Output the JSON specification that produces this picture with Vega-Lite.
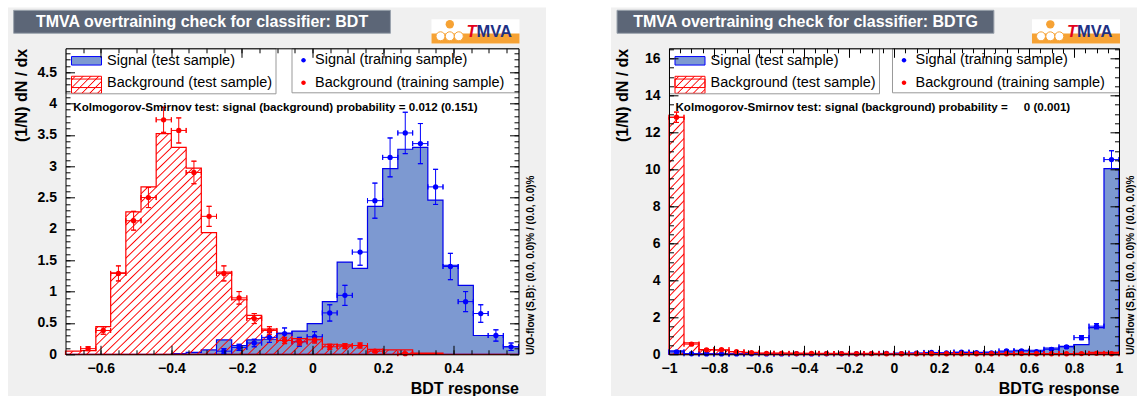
{
"$schema":"https://vega.github.io/schema/vega-lite/v6.json",
"background":"white",
"padding":{"left":7.5,"top":7.3,"right":0,"bottom":0},
"spacing":63.5,
"datasets":{
"bdtHist":[
{"x":-0.7,"s":0,"b":0.05},{"x":-0.657,"s":0,"b":0.06},{"x":-0.614,"s":0,"b":0.44},{"x":-0.572,"s":0,"b":1.3},{"x":-0.529,"s":0,"b":2.27},{"x":-0.486,"s":0,"b":2.67},{"x":-0.443,"s":0,"b":3.52},{"x":-0.4,"s":0.01,"b":3.3},{"x":-0.358,"s":0.03,"b":2.97},{"x":-0.315,"s":0.07,"b":1.94},{"x":-0.272,"s":0.23,"b":1.31},{"x":-0.229,"s":0.14,"b":0.87},{"x":-0.186,"s":0.23,"b":0.62},{"x":-0.144,"s":0.24,"b":0.4},{"x":-0.101,"s":0.34,"b":0.33},{"x":-0.058,"s":0.37,"b":0.25},{"x":-0.015,"s":0.49,"b":0.24},{"x":0.028,"s":0.84,"b":0.16},{"x":0.07,"s":1.47,"b":0.15},{"x":0.113,"s":1.37,"b":0.14},{"x":0.156,"s":2.36,"b":0.08},{"x":0.199,"s":2.96,"b":0.07},{"x":0.242,"s":3.27,"b":0.07},{"x":0.284,"s":3.3,"b":0.02},{"x":0.327,"s":2.46,"b":0.02},{"x":0.37,"s":1.42,"b":0},{"x":0.413,"s":1.1,"b":0},{"x":0.456,"s":0.3,"b":0},{"x":0.498,"s":0.3,"b":0},{"x":0.541,"s":0.12,"b":0},{"x":0.584,"s":0,"b":0}],
"bdtTrain":[
{"sample":"S","c":-0.251,"lo":-0.272,"hi":-0.229,"v":0.05,"yl":0.01,"yh":0.09},
{"sample":"S","c":-0.208,"lo":-0.229,"hi":-0.186,"v":0.11,"yl":0.06,"yh":0.16},
{"sample":"S","c":-0.165,"lo":-0.186,"hi":-0.144,"v":0.18,"yl":0.12,"yh":0.24},
{"sample":"S","c":-0.122,"lo":-0.144,"hi":-0.101,"v":0.27,"yl":0.19,"yh":0.35},
{"sample":"S","c":-0.079,"lo":-0.101,"hi":-0.058,"v":0.33,"yl":0.24,"yh":0.42},
{"sample":"S","c":-0.037,"lo":-0.058,"hi":-0.015,"v":0.2,"yl":0.13,"yh":0.27},
{"sample":"S","c":0.006,"lo":-0.015,"hi":0.028,"v":0.28,"yl":0.2,"yh":0.36},
{"sample":"S","c":0.049,"lo":0.028,"hi":0.07,"v":0.66,"yl":0.53,"yh":0.79},
{"sample":"S","c":0.092,"lo":0.07,"hi":0.113,"v":0.94,"yl":0.78,"yh":1.1},
{"sample":"S","c":0.135,"lo":0.113,"hi":0.156,"v":1.63,"yl":1.42,"yh":1.84},
{"sample":"S","c":0.177,"lo":0.156,"hi":0.199,"v":2.45,"yl":2.17,"yh":2.73},
{"sample":"S","c":0.22,"lo":0.199,"hi":0.242,"v":3.14,"yl":2.83,"yh":3.45},
{"sample":"S","c":0.263,"lo":0.242,"hi":0.284,"v":3.53,"yl":3.2,"yh":3.86},
{"sample":"S","c":0.306,"lo":0.284,"hi":0.327,"v":3.36,"yl":3.04,"yh":3.68},
{"sample":"S","c":0.349,"lo":0.327,"hi":0.37,"v":2.67,"yl":2.39,"yh":2.95},
{"sample":"S","c":0.391,"lo":0.37,"hi":0.413,"v":1.4,"yl":1.19,"yh":1.61},
{"sample":"S","c":0.434,"lo":0.413,"hi":0.456,"v":0.84,"yl":0.68,"yh":1.0},
{"sample":"S","c":0.477,"lo":0.456,"hi":0.498,"v":0.65,"yl":0.51,"yh":0.79},
{"sample":"S","c":0.52,"lo":0.498,"hi":0.541,"v":0.3,"yl":0.21,"yh":0.39},
{"sample":"S","c":0.563,"lo":0.541,"hi":0.584,"v":0.12,"yl":0.06,"yh":0.18},
{"sample":"B","c":-0.636,"lo":-0.657,"hi":-0.614,"v":0.09,"yl":0.06,"yh":0.12},
{"sample":"B","c":-0.593,"lo":-0.614,"hi":-0.572,"v":0.38,"yl":0.32,"yh":0.44},
{"sample":"B","c":-0.55,"lo":-0.572,"hi":-0.529,"v":1.29,"yl":1.17,"yh":1.41},
{"sample":"B","c":-0.507,"lo":-0.529,"hi":-0.486,"v":2.13,"yl":1.98,"yh":2.28},
{"sample":"B","c":-0.465,"lo":-0.486,"hi":-0.443,"v":2.5,"yl":2.34,"yh":2.66},
{"sample":"B","c":-0.422,"lo":-0.443,"hi":-0.4,"v":3.74,"yl":3.54,"yh":3.94},
{"sample":"B","c":-0.379,"lo":-0.4,"hi":-0.358,"v":3.57,"yl":3.37,"yh":3.77},
{"sample":"B","c":-0.336,"lo":-0.358,"hi":-0.315,"v":2.9,"yl":2.72,"yh":3.08},
{"sample":"B","c":-0.293,"lo":-0.315,"hi":-0.272,"v":2.2,"yl":2.04,"yh":2.36},
{"sample":"B","c":-0.251,"lo":-0.272,"hi":-0.229,"v":1.29,"yl":1.17,"yh":1.41},
{"sample":"B","c":-0.208,"lo":-0.229,"hi":-0.186,"v":0.9,"yl":0.8,"yh":1.0},
{"sample":"B","c":-0.165,"lo":-0.186,"hi":-0.144,"v":0.57,"yl":0.49,"yh":0.65},
{"sample":"B","c":-0.122,"lo":-0.144,"hi":-0.101,"v":0.38,"yl":0.32,"yh":0.44},
{"sample":"B","c":-0.079,"lo":-0.101,"hi":-0.058,"v":0.22,"yl":0.17,"yh":0.27},
{"sample":"B","c":-0.037,"lo":-0.058,"hi":-0.015,"v":0.2,"yl":0.15,"yh":0.25},
{"sample":"B","c":0.006,"lo":-0.015,"hi":0.028,"v":0.23,"yl":0.18,"yh":0.28},
{"sample":"B","c":0.049,"lo":0.028,"hi":0.07,"v":0.12,"yl":0.08,"yh":0.16},
{"sample":"B","c":0.092,"lo":0.07,"hi":0.113,"v":0.13,"yl":0.09,"yh":0.17},
{"sample":"B","c":0.135,"lo":0.113,"hi":0.156,"v":0.14,"yl":0.1,"yh":0.18},
{"sample":"B","c":0.177,"lo":0.156,"hi":0.199,"v":0.05,"yl":0.03,"yh":0.07},
{"sample":"B","c":0.263,"lo":0.242,"hi":0.284,"v":0.01,"yl":0,"yh":0.02}],
"bdtgHist":[
{"x":-1,"s":0.18,"b":12.82},{"x":-0.9333,"s":0.03,"b":0.62},{"x":-0.8667,"s":0.02,"b":0.25},{"x":-0.8,"s":0.02,"b":0.22},{"x":-0.7333,"s":0.02,"b":0.14},{"x":-0.6667,"s":0.02,"b":0.1},{"x":-0.6,"s":0.02,"b":0.07},{"x":-0.5333,"s":0.02,"b":0.06},{"x":-0.4667,"s":0.02,"b":0.06},{"x":-0.4,"s":0.03,"b":0.05},{"x":-0.3333,"s":0.03,"b":0.05},{"x":-0.2667,"s":0.03,"b":0.05},{"x":-0.2,"s":0.03,"b":0.05},{"x":-0.1333,"s":0.04,"b":0.05},{"x":-0.0667,"s":0.04,"b":0.04},{"x":0,"s":0.06,"b":0.04},{"x":0.0667,"s":0.07,"b":0.04},{"x":0.1333,"s":0.07,"b":0.04},{"x":0.2,"s":0.08,"b":0.04},{"x":0.2667,"s":0.09,"b":0.04},{"x":0.3333,"s":0.1,"b":0.04},{"x":0.4,"s":0.12,"b":0.04},{"x":0.4667,"s":0.13,"b":0.04},{"x":0.5333,"s":0.22,"b":0.04},{"x":0.6,"s":0.22,"b":0.04},{"x":0.6667,"s":0.34,"b":0.04},{"x":0.7333,"s":0.43,"b":0.04},{"x":0.8,"s":0.52,"b":0.05},{"x":0.8667,"s":1.44,"b":0.1},{"x":0.9333,"s":10.04,"b":0.1},{"x":1,"s":0,"b":0}],
"bdtgTrain":[
{"sample":"S","c":-0.9667,"lo":-1,"hi":-0.9333,"v":0.13,"yl":0.09,"yh":0.17},
{"sample":"S","c":-0.9,"lo":-0.9333,"hi":-0.8667,"v":0.03,"yl":0.01,"yh":0.05},
{"sample":"S","c":-0.8333,"lo":-0.8667,"hi":-0.8,"v":0.02,"yl":0,"yh":0.04},
{"sample":"S","c":-0.7667,"lo":-0.8,"hi":-0.7333,"v":0.02,"yl":0,"yh":0.04},
{"sample":"S","c":-0.7,"lo":-0.7333,"hi":-0.6667,"v":0.02,"yl":0,"yh":0.04},
{"sample":"S","c":-0.6333,"lo":-0.6667,"hi":-0.6,"v":0.03,"yl":0.01,"yh":0.05},
{"sample":"S","c":-0.5667,"lo":-0.6,"hi":-0.5333,"v":0.02,"yl":0,"yh":0.04},
{"sample":"S","c":-0.5,"lo":-0.5333,"hi":-0.4667,"v":0.02,"yl":0,"yh":0.04},
{"sample":"S","c":-0.4333,"lo":-0.4667,"hi":-0.4,"v":0.03,"yl":0.01,"yh":0.05},
{"sample":"S","c":-0.3667,"lo":-0.4,"hi":-0.3333,"v":0.02,"yl":0,"yh":0.04},
{"sample":"S","c":-0.3,"lo":-0.3333,"hi":-0.2667,"v":0.03,"yl":0.01,"yh":0.05},
{"sample":"S","c":-0.2333,"lo":-0.2667,"hi":-0.2,"v":0.03,"yl":0.01,"yh":0.05},
{"sample":"S","c":-0.1667,"lo":-0.2,"hi":-0.1333,"v":0.03,"yl":0.01,"yh":0.05},
{"sample":"S","c":-0.1,"lo":-0.1333,"hi":-0.0667,"v":0.04,"yl":0.02,"yh":0.06},
{"sample":"S","c":-0.0333,"lo":-0.0667,"hi":0,"v":0.05,"yl":0.03,"yh":0.07},
{"sample":"S","c":0.0333,"lo":0,"hi":0.0667,"v":0.04,"yl":0.02,"yh":0.06},
{"sample":"S","c":0.1,"lo":0.0667,"hi":0.1333,"v":0.06,"yl":0.03,"yh":0.09},
{"sample":"S","c":0.1667,"lo":0.1333,"hi":0.2,"v":0.1,"yl":0.07,"yh":0.13},
{"sample":"S","c":0.2333,"lo":0.2,"hi":0.2667,"v":0.07,"yl":0.04,"yh":0.1},
{"sample":"S","c":0.3,"lo":0.2667,"hi":0.3333,"v":0.12,"yl":0.08,"yh":0.16},
{"sample":"S","c":0.3667,"lo":0.3333,"hi":0.4,"v":0.09,"yl":0.06,"yh":0.12},
{"sample":"S","c":0.4333,"lo":0.4,"hi":0.4667,"v":0.07,"yl":0.04,"yh":0.1},
{"sample":"S","c":0.5,"lo":0.4667,"hi":0.5333,"v":0.18,"yl":0.13,"yh":0.23},
{"sample":"S","c":0.5667,"lo":0.5333,"hi":0.6,"v":0.18,"yl":0.13,"yh":0.23},
{"sample":"S","c":0.6333,"lo":0.6,"hi":0.6667,"v":0.14,"yl":0.09,"yh":0.19},
{"sample":"S","c":0.7,"lo":0.6667,"hi":0.7333,"v":0.27,"yl":0.21,"yh":0.33},
{"sample":"S","c":0.7667,"lo":0.7333,"hi":0.8,"v":0.4,"yl":0.33,"yh":0.47},
{"sample":"S","c":0.8333,"lo":0.8,"hi":0.8667,"v":0.9,"yl":0.79,"yh":1.01},
{"sample":"S","c":0.9,"lo":0.8667,"hi":0.9333,"v":1.52,"yl":1.38,"yh":1.66},
{"sample":"S","c":0.9667,"lo":0.9333,"hi":1,"v":10.53,"yl":10.05,"yh":11.01},
{"sample":"B","c":-0.9667,"lo":-1,"hi":-0.9333,"v":12.82,"yl":12.54,"yh":13.1},
{"sample":"B","c":-0.9,"lo":-0.9333,"hi":-0.8667,"v":0.55,"yl":0.49,"yh":0.61},
{"sample":"B","c":-0.8333,"lo":-0.8667,"hi":-0.8,"v":0.24,"yl":0.2,"yh":0.28},
{"sample":"B","c":-0.7667,"lo":-0.8,"hi":-0.7333,"v":0.25,"yl":0.21,"yh":0.29},
{"sample":"B","c":-0.7,"lo":-0.7333,"hi":-0.6667,"v":0.14,"yl":0.11,"yh":0.17},
{"sample":"B","c":-0.6333,"lo":-0.6667,"hi":-0.6,"v":0.09,"yl":0.07,"yh":0.11},
{"sample":"B","c":-0.5667,"lo":-0.6,"hi":-0.5333,"v":0.05,"yl":0.035,"yh":0.065},
{"sample":"B","c":-0.5,"lo":-0.5333,"hi":-0.4667,"v":0.05,"yl":0.035,"yh":0.065},
{"sample":"B","c":-0.4333,"lo":-0.4667,"hi":-0.4,"v":0.04,"yl":0.025,"yh":0.055},
{"sample":"B","c":-0.3667,"lo":-0.4,"hi":-0.3333,"v":0.05,"yl":0.035,"yh":0.065},
{"sample":"B","c":-0.3,"lo":-0.3333,"hi":-0.2667,"v":0.04,"yl":0.025,"yh":0.055},
{"sample":"B","c":-0.2333,"lo":-0.2667,"hi":-0.2,"v":0.04,"yl":0.025,"yh":0.055},
{"sample":"B","c":-0.1667,"lo":-0.2,"hi":-0.1333,"v":0.03,"yl":0.015,"yh":0.045},
{"sample":"B","c":-0.1,"lo":-0.1333,"hi":-0.0667,"v":0.04,"yl":0.025,"yh":0.055},
{"sample":"B","c":-0.0333,"lo":-0.0667,"hi":0,"v":0.03,"yl":0.015,"yh":0.045},
{"sample":"B","c":0.0333,"lo":0,"hi":0.0667,"v":0.03,"yl":0.015,"yh":0.045},
{"sample":"B","c":0.1,"lo":0.0667,"hi":0.1333,"v":0.03,"yl":0.015,"yh":0.045},
{"sample":"B","c":0.1667,"lo":0.1333,"hi":0.2,"v":0.03,"yl":0.015,"yh":0.045},
{"sample":"B","c":0.2333,"lo":0.2,"hi":0.2667,"v":0.03,"yl":0.015,"yh":0.045},
{"sample":"B","c":0.3,"lo":0.2667,"hi":0.3333,"v":0.03,"yl":0.015,"yh":0.045},
{"sample":"B","c":0.3667,"lo":0.3333,"hi":0.4,"v":0.03,"yl":0.015,"yh":0.045},
{"sample":"B","c":0.4333,"lo":0.4,"hi":0.4667,"v":0.03,"yl":0.015,"yh":0.045},
{"sample":"B","c":0.5,"lo":0.4667,"hi":0.5333,"v":0.03,"yl":0.015,"yh":0.045},
{"sample":"B","c":0.5667,"lo":0.5333,"hi":0.6,"v":0.04,"yl":0.025,"yh":0.055},
{"sample":"B","c":0.6333,"lo":0.6,"hi":0.6667,"v":0.03,"yl":0.015,"yh":0.045},
{"sample":"B","c":0.7,"lo":0.6667,"hi":0.7333,"v":0.03,"yl":0.015,"yh":0.045},
{"sample":"B","c":0.7667,"lo":0.7333,"hi":0.8,"v":0.03,"yl":0.015,"yh":0.045},
{"sample":"B","c":0.8333,"lo":0.8,"hi":0.8667,"v":0.04,"yl":0.025,"yh":0.055},
{"sample":"B","c":0.9,"lo":0.8667,"hi":0.9333,"v":0.05,"yl":0.035,"yh":0.065},
{"sample":"B","c":0.9667,"lo":0.9333,"hi":1,"v":0.03,"yl":0.015,"yh":0.045}]
},
"hconcat":[
{"width":453,"height":306,
"resolve":{"axis":{"x":"independent","y":"independent"}},
"layer":[
{"data":{"values":[{}]},"mark":{"type":"rect","fill":"#f0f0f0"},"encoding":{"x":{"datum":-0.863,"type":"quantitative","scale":{"domain":[-0.7,0.584],"nice":false,"zero":false},"axis":null},"x2":{"datum":0.662},"y":{"datum":-0.67,"type":"quantitative","scale":{"domain":[0,4.88],"nice":false,"zero":false},"axis":null},"y2":{"datum":5.53}}},
{"data":{"values":[{}]},"mark":{"type":"rect","fill":"#5c6677","stroke":"#9aa3ad","strokeWidth":1},"encoding":{"x":{"datum":-0.847,"type":"quantitative","scale":{"domain":[-0.7,0.584],"nice":false,"zero":false},"axis":null},"x2":{"datum":0.221},"y":{"datum":5.12,"type":"quantitative","scale":{"domain":[0,4.88],"nice":false,"zero":false},"axis":null},"y2":{"datum":5.486}}},
{"data":{"values":[{}]},"mark":{"type":"text","text":"TMVA overtraining check for classifier: BDT","font":"Liberation Sans","fontSize":16,"fontWeight":"bold","color":"white","align":"center","baseline":"middle"},"encoding":{"x":{"datum":-0.313,"type":"quantitative","scale":{"domain":[-0.7,0.584],"nice":false,"zero":false},"axis":null},"y":{"datum":5.303,"type":"quantitative","scale":{"domain":[0,4.88],"nice":false,"zero":false},"axis":null}}},
{"data":{"values":[{}]},"mark":{"type":"rect","fill":"white"},"encoding":{"x":{"datum":0.3374,"type":"quantitative","scale":{"domain":[-0.7,0.584],"nice":false,"zero":false},"axis":null},"x2":{"datum":0.5868},"y":{"datum":4.955,"type":"quantitative","scale":{"domain":[0,4.88],"nice":false,"zero":false},"axis":null},"y2":{"datum":5.343}}},
{"data":{"values":[{}]},"mark":{"type":"rect","fill":"#f6a234"},"encoding":{"x":{"datum":0.3374,"type":"quantitative","scale":{"domain":[-0.7,0.584],"nice":false,"zero":false},"axis":null},"x2":{"datum":0.5868},"y":{"datum":4.955,"type":"quantitative","scale":{"domain":[0,4.88],"nice":false,"zero":false},"axis":null},"y2":{"datum":5.115}}},
{"data":{"values":[{}]},"mark":{"type":"circle","size":70,"opacity":1,"color":"#f6a234"},"encoding":{"x":{"datum":0.3893,"type":"quantitative","scale":{"domain":[-0.7,0.584],"nice":false,"zero":false},"axis":null},"y":{"datum":5.263,"type":"quantitative","scale":{"domain":[0,4.88],"nice":false,"zero":false},"axis":null}}},
{"data":{"values":[{}]},"mark":{"type":"circle","size":80,"opacity":1,"fill":"white","stroke":"#f6a234","strokeWidth":1},"encoding":{"x":{"datum":0.3629,"type":"quantitative","scale":{"domain":[-0.7,0.584],"nice":false,"zero":false},"axis":null},"y":{"datum":5.072,"type":"quantitative","scale":{"domain":[0,4.88],"nice":false,"zero":false},"axis":null}}},
{"data":{"values":[{}]},"mark":{"type":"circle","size":80,"opacity":1,"fill":"white","stroke":"#f6a234","strokeWidth":1},"encoding":{"x":{"datum":0.3893,"type":"quantitative","scale":{"domain":[-0.7,0.584],"nice":false,"zero":false},"axis":null},"y":{"datum":5.072,"type":"quantitative","scale":{"domain":[0,4.88],"nice":false,"zero":false},"axis":null}}},
{"data":{"values":[{}]},"mark":{"type":"circle","size":80,"opacity":1,"fill":"white","stroke":"#f6a234","strokeWidth":1},"encoding":{"x":{"datum":0.4148,"type":"quantitative","scale":{"domain":[-0.7,0.584],"nice":false,"zero":false},"axis":null},"y":{"datum":5.072,"type":"quantitative","scale":{"domain":[0,4.88],"nice":false,"zero":false},"axis":null}}},
{"data":{"values":[{}]},"mark":{"type":"text","text":"T","font":"Liberation Sans","fontSize":16.5,"fontWeight":"bold","fontStyle":"italic","color":"#e3001b","align":"left","baseline":"alphabetic"},"encoding":{"x":{"datum":0.4366,"type":"quantitative","scale":{"domain":[-0.7,0.584],"nice":false,"zero":false},"axis":null},"y":{"datum":5.061,"type":"quantitative","scale":{"domain":[0,4.88],"nice":false,"zero":false},"axis":null}}},
{"data":{"values":[{}]},"mark":{"type":"text","text":"MVA","font":"Liberation Sans","fontSize":16.5,"fontWeight":"bold","color":"#1f3184","align":"left","baseline":"alphabetic"},"encoding":{"x":{"datum":0.465,"type":"quantitative","scale":{"domain":[-0.7,0.584],"nice":false,"zero":false},"axis":null},"y":{"datum":5.061,"type":"quantitative","scale":{"domain":[0,4.88],"nice":false,"zero":false},"axis":null}}},
{"data":{"values":[{}]},"mark":{"type":"rect","fill":"white"},"encoding":{"x":{"datum":-0.7,"type":"quantitative","scale":{"domain":[-0.7,0.584],"nice":false,"zero":false},"axis":null},"x2":{"datum":0.584},"y":{"datum":0,"type":"quantitative","scale":{"domain":[0,4.88],"nice":false,"zero":false},"axis":null},"y2":{"datum":4.88}}},
{"data":{"values":[{}]},"mark":{"type":"rect","stroke":"#ff0000","strokeWidth":1,"fill":{"gradient":"linear","x1":0,"y1":0,"x2":1.19,"y2":0.67,"stops":[{"offset":0.055,"color":"rgba(255,0,0,0)"},{"offset":0.08,"color":"#f00"},{"offset":0.105,"color":"rgba(255,0,0,0)"},{"offset":0.222,"color":"rgba(255,0,0,0)"},{"offset":0.247,"color":"#f00"},{"offset":0.272,"color":"rgba(255,0,0,0)"},{"offset":0.388,"color":"rgba(255,0,0,0)"},{"offset":0.413,"color":"#f00"},{"offset":0.438,"color":"rgba(255,0,0,0)"},{"offset":0.555,"color":"rgba(255,0,0,0)"},{"offset":0.58,"color":"#f00"},{"offset":0.605,"color":"rgba(255,0,0,0)"},{"offset":0.722,"color":"rgba(255,0,0,0)"},{"offset":0.747,"color":"#f00"},{"offset":0.772,"color":"rgba(255,0,0,0)"},{"offset":0.888,"color":"rgba(255,0,0,0)"},{"offset":0.913,"color":"#f00"},{"offset":0.938,"color":"rgba(255,0,0,0)"}]}},"encoding":{"x":{"datum":-0.683,"type":"quantitative","scale":{"domain":[-0.7,0.584],"nice":false,"zero":false},"axis":null},"x2":{"datum":-0.598},"y":{"datum":4.163,"type":"quantitative","scale":{"domain":[0,4.88],"nice":false,"zero":false},"axis":null},"y2":{"datum":4.434}}},
{"data":{"name":"bdtHist"},"mark":{"type":"area","interpolate":"step-after","stroke":"#0000ee","strokeWidth":1.2},
"encoding":{
"x":{"field":"x","type":"quantitative","scale":{"domain":[-0.7,0.584],"nice":false,"zero":false},"axis":{"zindex":1,"orient":"bottom","values":[-0.6,-0.4,-0.2,0,0.2,0.4],"tickSize":-9,"labelPadding":16,"format":"~g","labelFlush":false,"labelOverlap":false,"title":"BDT response","titleAnchor":"end","titlePadding":5}},
"y":{"field":"s","type":"quantitative","scale":{"domain":[0,4.88],"nice":false,"zero":false},"axis":{"zindex":1,"orient":"left","values":[0,0.5,1,1.5,2,2.5,3,3.5,4,4.5],"tickSize":-9,"labelPadding":18,"format":"~g","labelOverlap":false,"title":"(1/N) dN / dx","titleAnchor":"end","titlePadding":8}},
"fill":{"datum":"S","type":"nominal","scale":{"domain":["S","B"],"range":["#7d99d1","rgba(0,0,0,0)"]},
"legend":{"title":null,"orient":"top-left","offset":0,"padding":3,"rowPadding":6.5,"fillColor":"rgba(0,0,0,0)","strokeColor":"#999999","cornerRadius":0,"symbolType":"M-1.667,-0.472H1.667V0.472H-1.667Z","symbolSize":324,"symbolStrokeWidth":1,"symbolOffset":8.5,"labelOffset":11,"labelFont":"Liberation Sans","labelFontSize":14.5,"labelColor":"black","labelLimit":400,"labelExpr":"datum.value === 'S' ? 'Signal (test sample)' : 'Background (test sample)'",
"encode":{"symbols":{"update":{"stroke":{"condition":{"test":"datum.value === 'B'","value":"rgba(0,0,0,0)"},"value":"#0000ee"},"opacity":{"value":1}}}}}}
}},
{"data":{"name":"bdtHist"},"mark":{"type":"area","interpolate":"step-after","stroke":"#ff0000","strokeWidth":1.2,"fill":{"gradient":"linear","x1":0,"y1":0,"x2":1.2,"y2":0.6,"stops":[
{"offset":0,"color":"rgba(255,0,0,0)"},{"offset":0.002,"color":"#f00"},{"offset":0.004,"color":"rgba(255,0,0,0)"},
{"offset":0.0125,"color":"rgba(255,0,0,0)"},{"offset":0.0145,"color":"#f00"},{"offset":0.0165,"color":"rgba(255,0,0,0)"},
{"offset":0.025,"color":"rgba(255,0,0,0)"},{"offset":0.027,"color":"#f00"},{"offset":0.029,"color":"rgba(255,0,0,0)"},
{"offset":0.0375,"color":"rgba(255,0,0,0)"},{"offset":0.0395,"color":"#f00"},{"offset":0.0415,"color":"rgba(255,0,0,0)"},
{"offset":0.05,"color":"rgba(255,0,0,0)"},{"offset":0.052,"color":"#f00"},{"offset":0.054,"color":"rgba(255,0,0,0)"},
{"offset":0.0625,"color":"rgba(255,0,0,0)"},{"offset":0.0645,"color":"#f00"},{"offset":0.0665,"color":"rgba(255,0,0,0)"},
{"offset":0.075,"color":"rgba(255,0,0,0)"},{"offset":0.077,"color":"#f00"},{"offset":0.079,"color":"rgba(255,0,0,0)"},
{"offset":0.0875,"color":"rgba(255,0,0,0)"},{"offset":0.0895,"color":"#f00"},{"offset":0.0915,"color":"rgba(255,0,0,0)"},
{"offset":0.1,"color":"rgba(255,0,0,0)"},{"offset":0.102,"color":"#f00"},{"offset":0.104,"color":"rgba(255,0,0,0)"},
{"offset":0.1125,"color":"rgba(255,0,0,0)"},{"offset":0.1145,"color":"#f00"},{"offset":0.1165,"color":"rgba(255,0,0,0)"},
{"offset":0.125,"color":"rgba(255,0,0,0)"},{"offset":0.127,"color":"#f00"},{"offset":0.129,"color":"rgba(255,0,0,0)"},
{"offset":0.1375,"color":"rgba(255,0,0,0)"},{"offset":0.1395,"color":"#f00"},{"offset":0.1415,"color":"rgba(255,0,0,0)"},
{"offset":0.15,"color":"rgba(255,0,0,0)"},{"offset":0.152,"color":"#f00"},{"offset":0.154,"color":"rgba(255,0,0,0)"},
{"offset":0.1625,"color":"rgba(255,0,0,0)"},{"offset":0.1645,"color":"#f00"},{"offset":0.1665,"color":"rgba(255,0,0,0)"},
{"offset":0.175,"color":"rgba(255,0,0,0)"},{"offset":0.177,"color":"#f00"},{"offset":0.179,"color":"rgba(255,0,0,0)"},
{"offset":0.1875,"color":"rgba(255,0,0,0)"},{"offset":0.1895,"color":"#f00"},{"offset":0.1915,"color":"rgba(255,0,0,0)"},
{"offset":0.2,"color":"rgba(255,0,0,0)"},{"offset":0.202,"color":"#f00"},{"offset":0.204,"color":"rgba(255,0,0,0)"},
{"offset":0.2125,"color":"rgba(255,0,0,0)"},{"offset":0.2145,"color":"#f00"},{"offset":0.2165,"color":"rgba(255,0,0,0)"},
{"offset":0.225,"color":"rgba(255,0,0,0)"},{"offset":0.227,"color":"#f00"},{"offset":0.229,"color":"rgba(255,0,0,0)"},
{"offset":0.2375,"color":"rgba(255,0,0,0)"},{"offset":0.2395,"color":"#f00"},{"offset":0.2415,"color":"rgba(255,0,0,0)"},
{"offset":0.25,"color":"rgba(255,0,0,0)"},{"offset":0.252,"color":"#f00"},{"offset":0.254,"color":"rgba(255,0,0,0)"},
{"offset":0.2625,"color":"rgba(255,0,0,0)"},{"offset":0.2645,"color":"#f00"},{"offset":0.2665,"color":"rgba(255,0,0,0)"},
{"offset":0.275,"color":"rgba(255,0,0,0)"},{"offset":0.277,"color":"#f00"},{"offset":0.279,"color":"rgba(255,0,0,0)"},
{"offset":0.2875,"color":"rgba(255,0,0,0)"},{"offset":0.2895,"color":"#f00"},{"offset":0.2915,"color":"rgba(255,0,0,0)"},
{"offset":0.3,"color":"rgba(255,0,0,0)"},{"offset":0.302,"color":"#f00"},{"offset":0.304,"color":"rgba(255,0,0,0)"},
{"offset":0.3125,"color":"rgba(255,0,0,0)"},{"offset":0.3145,"color":"#f00"},{"offset":0.3165,"color":"rgba(255,0,0,0)"},
{"offset":0.325,"color":"rgba(255,0,0,0)"},{"offset":0.327,"color":"#f00"},{"offset":0.329,"color":"rgba(255,0,0,0)"},
{"offset":0.3375,"color":"rgba(255,0,0,0)"},{"offset":0.3395,"color":"#f00"},{"offset":0.3415,"color":"rgba(255,0,0,0)"},
{"offset":0.35,"color":"rgba(255,0,0,0)"},{"offset":0.352,"color":"#f00"},{"offset":0.354,"color":"rgba(255,0,0,0)"},
{"offset":0.3625,"color":"rgba(255,0,0,0)"},{"offset":0.3645,"color":"#f00"},{"offset":0.3665,"color":"rgba(255,0,0,0)"},
{"offset":0.375,"color":"rgba(255,0,0,0)"},{"offset":0.377,"color":"#f00"},{"offset":0.379,"color":"rgba(255,0,0,0)"},
{"offset":0.3875,"color":"rgba(255,0,0,0)"},{"offset":0.3895,"color":"#f00"},{"offset":0.3915,"color":"rgba(255,0,0,0)"},
{"offset":0.4,"color":"rgba(255,0,0,0)"},{"offset":0.402,"color":"#f00"},{"offset":0.404,"color":"rgba(255,0,0,0)"},
{"offset":0.4125,"color":"rgba(255,0,0,0)"},{"offset":0.4145,"color":"#f00"},{"offset":0.4165,"color":"rgba(255,0,0,0)"},
{"offset":0.425,"color":"rgba(255,0,0,0)"},{"offset":0.427,"color":"#f00"},{"offset":0.429,"color":"rgba(255,0,0,0)"},
{"offset":0.4375,"color":"rgba(255,0,0,0)"},{"offset":0.4395,"color":"#f00"},{"offset":0.4415,"color":"rgba(255,0,0,0)"},
{"offset":0.45,"color":"rgba(255,0,0,0)"},{"offset":0.452,"color":"#f00"},{"offset":0.454,"color":"rgba(255,0,0,0)"},
{"offset":0.4625,"color":"rgba(255,0,0,0)"},{"offset":0.4645,"color":"#f00"},{"offset":0.4665,"color":"rgba(255,0,0,0)"},
{"offset":0.475,"color":"rgba(255,0,0,0)"},{"offset":0.477,"color":"#f00"},{"offset":0.479,"color":"rgba(255,0,0,0)"},
{"offset":0.4875,"color":"rgba(255,0,0,0)"},{"offset":0.4895,"color":"#f00"},{"offset":0.4915,"color":"rgba(255,0,0,0)"},
{"offset":0.5,"color":"rgba(255,0,0,0)"},{"offset":0.502,"color":"#f00"},{"offset":0.504,"color":"rgba(255,0,0,0)"},
{"offset":0.5125,"color":"rgba(255,0,0,0)"},{"offset":0.5145,"color":"#f00"},{"offset":0.5165,"color":"rgba(255,0,0,0)"},
{"offset":0.525,"color":"rgba(255,0,0,0)"},{"offset":0.527,"color":"#f00"},{"offset":0.529,"color":"rgba(255,0,0,0)"},
{"offset":0.5375,"color":"rgba(255,0,0,0)"},{"offset":0.5395,"color":"#f00"},{"offset":0.5415,"color":"rgba(255,0,0,0)"},
{"offset":0.55,"color":"rgba(255,0,0,0)"},{"offset":0.552,"color":"#f00"},{"offset":0.554,"color":"rgba(255,0,0,0)"},
{"offset":0.5625,"color":"rgba(255,0,0,0)"},{"offset":0.5645,"color":"#f00"},{"offset":0.5665,"color":"rgba(255,0,0,0)"},
{"offset":0.575,"color":"rgba(255,0,0,0)"},{"offset":0.577,"color":"#f00"},{"offset":0.579,"color":"rgba(255,0,0,0)"},
{"offset":0.5875,"color":"rgba(255,0,0,0)"},{"offset":0.5895,"color":"#f00"},{"offset":0.5915,"color":"rgba(255,0,0,0)"},
{"offset":0.6,"color":"rgba(255,0,0,0)"},{"offset":0.602,"color":"#f00"},{"offset":0.604,"color":"rgba(255,0,0,0)"},
{"offset":0.6125,"color":"rgba(255,0,0,0)"},{"offset":0.6145,"color":"#f00"},{"offset":0.6165,"color":"rgba(255,0,0,0)"},
{"offset":0.625,"color":"rgba(255,0,0,0)"},{"offset":0.627,"color":"#f00"},{"offset":0.629,"color":"rgba(255,0,0,0)"},
{"offset":0.6375,"color":"rgba(255,0,0,0)"},{"offset":0.6395,"color":"#f00"},{"offset":0.6415,"color":"rgba(255,0,0,0)"},
{"offset":0.65,"color":"rgba(255,0,0,0)"},{"offset":0.652,"color":"#f00"},{"offset":0.654,"color":"rgba(255,0,0,0)"},
{"offset":0.6625,"color":"rgba(255,0,0,0)"},{"offset":0.6645,"color":"#f00"},{"offset":0.6665,"color":"rgba(255,0,0,0)"},
{"offset":0.675,"color":"rgba(255,0,0,0)"},{"offset":0.677,"color":"#f00"},{"offset":0.679,"color":"rgba(255,0,0,0)"},
{"offset":0.6875,"color":"rgba(255,0,0,0)"},{"offset":0.6895,"color":"#f00"},{"offset":0.6915,"color":"rgba(255,0,0,0)"},
{"offset":0.7,"color":"rgba(255,0,0,0)"},{"offset":0.702,"color":"#f00"},{"offset":0.704,"color":"rgba(255,0,0,0)"},
{"offset":0.7125,"color":"rgba(255,0,0,0)"},{"offset":0.7145,"color":"#f00"},{"offset":0.7165,"color":"rgba(255,0,0,0)"},
{"offset":0.725,"color":"rgba(255,0,0,0)"},{"offset":0.727,"color":"#f00"},{"offset":0.729,"color":"rgba(255,0,0,0)"},
{"offset":0.7375,"color":"rgba(255,0,0,0)"},{"offset":0.7395,"color":"#f00"},{"offset":0.7415,"color":"rgba(255,0,0,0)"},
{"offset":0.75,"color":"rgba(255,0,0,0)"},{"offset":0.752,"color":"#f00"},{"offset":0.754,"color":"rgba(255,0,0,0)"},
{"offset":0.7625,"color":"rgba(255,0,0,0)"},{"offset":0.7645,"color":"#f00"},{"offset":0.7665,"color":"rgba(255,0,0,0)"},
{"offset":0.775,"color":"rgba(255,0,0,0)"},{"offset":0.777,"color":"#f00"},{"offset":0.779,"color":"rgba(255,0,0,0)"},
{"offset":0.7875,"color":"rgba(255,0,0,0)"},{"offset":0.7895,"color":"#f00"},{"offset":0.7915,"color":"rgba(255,0,0,0)"},
{"offset":0.8,"color":"rgba(255,0,0,0)"},{"offset":0.802,"color":"#f00"},{"offset":0.804,"color":"rgba(255,0,0,0)"},
{"offset":0.8125,"color":"rgba(255,0,0,0)"},{"offset":0.8145,"color":"#f00"},{"offset":0.8165,"color":"rgba(255,0,0,0)"},
{"offset":0.825,"color":"rgba(255,0,0,0)"},{"offset":0.827,"color":"#f00"},{"offset":0.829,"color":"rgba(255,0,0,0)"},
{"offset":0.8375,"color":"rgba(255,0,0,0)"},{"offset":0.8395,"color":"#f00"},{"offset":0.8415,"color":"rgba(255,0,0,0)"},
{"offset":0.85,"color":"rgba(255,0,0,0)"},{"offset":0.852,"color":"#f00"},{"offset":0.854,"color":"rgba(255,0,0,0)"},
{"offset":0.8625,"color":"rgba(255,0,0,0)"},{"offset":0.8645,"color":"#f00"},{"offset":0.8665,"color":"rgba(255,0,0,0)"},
{"offset":0.875,"color":"rgba(255,0,0,0)"},{"offset":0.877,"color":"#f00"},{"offset":0.879,"color":"rgba(255,0,0,0)"},
{"offset":0.8875,"color":"rgba(255,0,0,0)"},{"offset":0.8895,"color":"#f00"},{"offset":0.8915,"color":"rgba(255,0,0,0)"},
{"offset":0.9,"color":"rgba(255,0,0,0)"},{"offset":0.902,"color":"#f00"},{"offset":0.904,"color":"rgba(255,0,0,0)"},
{"offset":0.9125,"color":"rgba(255,0,0,0)"},{"offset":0.9145,"color":"#f00"},{"offset":0.9165,"color":"rgba(255,0,0,0)"},
{"offset":0.925,"color":"rgba(255,0,0,0)"},{"offset":0.927,"color":"#f00"},{"offset":0.929,"color":"rgba(255,0,0,0)"},
{"offset":0.9375,"color":"rgba(255,0,0,0)"},{"offset":0.9395,"color":"#f00"},{"offset":0.9415,"color":"rgba(255,0,0,0)"},
{"offset":0.95,"color":"rgba(255,0,0,0)"},{"offset":0.952,"color":"#f00"},{"offset":0.954,"color":"rgba(255,0,0,0)"},
{"offset":0.9625,"color":"rgba(255,0,0,0)"},{"offset":0.9645,"color":"#f00"},{"offset":0.9665,"color":"rgba(255,0,0,0)"},
{"offset":0.975,"color":"rgba(255,0,0,0)"},{"offset":0.977,"color":"#f00"},{"offset":0.979,"color":"rgba(255,0,0,0)"},
{"offset":0.9875,"color":"rgba(255,0,0,0)"},{"offset":0.9895,"color":"#f00"},{"offset":0.9915,"color":"rgba(255,0,0,0)"}
]}},
"encoding":{
"x":{"field":"x","type":"quantitative","scale":{"domain":[-0.7,0.584],"nice":false,"zero":false},"axis":{"zindex":1,"orient":"bottom","values":[-0.65,-0.6,-0.55,-0.5,-0.45,-0.4,-0.35,-0.3,-0.25,-0.2,-0.15,-0.1,-0.05,0,0.05,0.1,0.15,0.2,0.25,0.3,0.35,0.4,0.45,0.5,0.55],"tickSize":-4.5,"labels":false,"domain":false,"title":null}},
"y":{"field":"b","type":"quantitative","scale":{"domain":[0,4.88],"nice":false,"zero":false},"axis":{"zindex":1,"orient":"left","values":[0.1,0.2,0.3,0.4,0.5,0.6,0.7,0.8,0.9,1,1.1,1.2,1.3,1.4,1.5,1.6,1.7,1.8,1.9,2,2.1,2.2,2.3,2.4,2.5,2.6,2.7,2.8,2.9,3,3.1,3.2,3.3,3.4,3.5,3.6,3.7,3.8,3.9,4,4.1,4.2,4.3,4.4,4.5,4.6,4.7,4.8],"tickSize":-4.5,"labels":false,"domain":false,"title":null}}
}},
{"data":{"name":"bdtTrain"},"mark":{"type":"rule","strokeWidth":1},
"encoding":{
"x":{"field":"c","type":"quantitative","scale":{"domain":[-0.7,0.584],"nice":false,"zero":false},"axis":{"zindex":1,"orient":"top","values":[-0.6,-0.4,-0.2,0,0.2,0.4],"tickSize":-9,"labels":false,"title":null}},
"y":{"field":"yl","type":"quantitative","scale":{"domain":[0,4.88],"nice":false,"zero":false},"axis":{"zindex":1,"orient":"right","values":[0,0.5,1,1.5,2,2.5,3,3.5,4,4.5],"tickSize":-9,"labels":false,"title":"U/O-flow (S,B): (0.0, 0.0)% / (0.0, 0.0)%","titleAnchor":"start","titleAngle":270,"titleBaseline":"top","titleFontSize":10,"titlePadding":6}},
"y2":{"field":"yh"},
"stroke":{"field":"sample","type":"nominal","scale":{"domain":["S","B"],"range":["#0000ff","#ff0000"]},"legend":null}
}},
{"data":{"name":"bdtTrain"},"mark":{"type":"rule","strokeWidth":1},
"encoding":{
"x":{"field":"lo","type":"quantitative","scale":{"domain":[-0.7,0.584],"nice":false,"zero":false},"axis":{"zindex":1,"orient":"top","values":[-0.65,-0.6,-0.55,-0.5,-0.45,-0.4,-0.35,-0.3,-0.25,-0.2,-0.15,-0.1,-0.05,0,0.05,0.1,0.15,0.2,0.25,0.3,0.35,0.4,0.45,0.5,0.55],"tickSize":-4.5,"labels":false,"domain":false,"title":null}},
"x2":{"field":"hi"},
"y":{"field":"v","type":"quantitative","scale":{"domain":[0,4.88],"nice":false,"zero":false},"axis":{"zindex":1,"orient":"right","values":[0.1,0.2,0.3,0.4,0.5,0.6,0.7,0.8,0.9,1,1.1,1.2,1.3,1.4,1.5,1.6,1.7,1.8,1.9,2,2.1,2.2,2.3,2.4,2.5,2.6,2.7,2.8,2.9,3,3.1,3.2,3.3,3.4,3.5,3.6,3.7,3.8,3.9,4,4.1,4.2,4.3,4.4,4.5,4.6,4.7,4.8],"tickSize":-4.5,"labels":false,"domain":false,"title":null}},
"stroke":{"field":"sample","type":"nominal","scale":{"domain":["S","B"],"range":["#0000ff","#ff0000"]},"legend":null}
}},
{"data":{"name":"bdtTrain"},"transform":[{"fold":["yl","yh"],"as":["kk","yy"]}],"mark":{"type":"tick","orient":"horizontal","filled":false,"size":5,"thickness":0.01,"strokeWidth":1,"opacity":1},
"encoding":{
"x":{"field":"c","type":"quantitative","scale":{"domain":[-0.7,0.584],"nice":false,"zero":false},"axis":null},
"y":{"field":"yy","type":"quantitative","scale":{"domain":[0,4.88],"nice":false,"zero":false},"axis":null},
"stroke":{"field":"sample","type":"nominal","scale":{"domain":["S","B"],"range":["#0000ff","#ff0000"]},"legend":null}
}},
{"data":{"name":"bdtTrain"},"transform":[{"fold":["lo","hi"],"as":["kk","xx"]}],"mark":{"type":"tick","orient":"vertical","filled":false,"size":5,"thickness":0.01,"strokeWidth":1,"opacity":1},
"encoding":{
"x":{"field":"xx","type":"quantitative","scale":{"domain":[-0.7,0.584],"nice":false,"zero":false},"axis":null},
"y":{"field":"v","type":"quantitative","scale":{"domain":[0,4.88],"nice":false,"zero":false},"axis":null},
"stroke":{"field":"sample","type":"nominal","scale":{"domain":["S","B"],"range":["#0000ff","#ff0000"]},"legend":null}
}},
{"data":{"name":"bdtTrain"},"mark":{"type":"circle","size":28,"opacity":1},
"encoding":{
"x":{"field":"c","type":"quantitative","scale":{"domain":[-0.7,0.584],"nice":false,"zero":false},"axis":null},
"y":{"field":"v","type":"quantitative","scale":{"domain":[0,4.88],"nice":false,"zero":false},"axis":null},
"color":{"field":"sample","type":"nominal","scale":{"domain":["S","B"],"range":["#0000ff","#ff0000"]},
"legend":{"title":null,"orient":"top-right","offset":0,"padding":3,"rowPadding":6.5,"fillColor":"white","strokeColor":"#999999","cornerRadius":0,"symbolType":"M-0.25,0A0.25,0.25,0,1,1,0.25,0A0.25,0.25,0,1,1,-0.25,0Z","symbolSize":324,"symbolStrokeWidth":0,"labelOffset":2.6,"labelFont":"Liberation Sans","labelFontSize":14.5,"labelColor":"black","labelLimit":400,"labelExpr":"datum.value === 'S' ? 'Signal (training sample)\u2800' : 'Background (training sample)\u2800'"}}
}},
{"data":{"values":[{}]},"mark":{"type":"text","text":"Kolmogorov-Smirnov test: signal (background) probability = 0.012 (0.151)","font":"Liberation Sans","fontSize":11.6,"fontWeight":"bold","color":"black","align":"left","baseline":"middle"},"encoding":{"x":{"datum":-0.678,"type":"quantitative","scale":{"domain":[-0.7,0.584],"nice":false,"zero":false},"axis":null},"y":{"datum":3.931,"type":"quantitative","scale":{"domain":[0,4.88],"nice":false,"zero":false},"axis":null}}}
]},
{"width":450,"height":306,
"resolve":{"axis":{"x":"independent","y":"independent"}},
"layer":[
{"data":{"values":[{}]},"mark":{"type":"rect","fill":"#f0f0f0"},"encoding":{"x":{"datum":-1.2578,"type":"quantitative","scale":{"domain":[-1,1],"nice":false,"zero":false},"axis":null},"x2":{"datum":1.0889},"y":{"datum":-2.2715,"type":"quantitative","scale":{"domain":[0,16.55],"nice":false,"zero":false},"axis":null},"y2":{"datum":18.751}}},
{"data":{"values":[{}]},"mark":{"type":"rect","fill":"#5c6677","stroke":"#9aa3ad","strokeWidth":1},"encoding":{"x":{"datum":-1.231,"type":"quantitative","scale":{"domain":[-1,1],"nice":false,"zero":false},"axis":null},"x2":{"datum":0.444},"y":{"datum":17.361,"type":"quantitative","scale":{"domain":[0,16.55],"nice":false,"zero":false},"axis":null},"y2":{"datum":18.605}}},
{"data":{"values":[{}]},"mark":{"type":"text","text":"TMVA overtraining check for classifier: BDTG","font":"Liberation Sans","fontSize":16,"fontWeight":"bold","color":"white","align":"center","baseline":"middle"},"encoding":{"x":{"datum":-0.3933,"type":"quantitative","scale":{"domain":[-1,1],"nice":false,"zero":false},"axis":null},"y":{"datum":17.983,"type":"quantitative","scale":{"domain":[0,16.55],"nice":false,"zero":false},"axis":null}}},
{"data":{"values":[{}]},"mark":{"type":"rect","fill":"white"},"encoding":{"x":{"datum":0.6133,"type":"quantitative","scale":{"domain":[-1,1],"nice":false,"zero":false},"axis":null},"x2":{"datum":1.0044},"y":{"datum":16.804,"type":"quantitative","scale":{"domain":[0,16.55],"nice":false,"zero":false},"axis":null},"y2":{"datum":18.118}}},
{"data":{"values":[{}]},"mark":{"type":"rect","fill":"#f6a234"},"encoding":{"x":{"datum":0.6133,"type":"quantitative","scale":{"domain":[-1,1],"nice":false,"zero":false},"axis":null},"x2":{"datum":1.0044},"y":{"datum":16.804,"type":"quantitative","scale":{"domain":[0,16.55],"nice":false,"zero":false},"axis":null},"y2":{"datum":17.345}}},
{"data":{"values":[{}]},"mark":{"type":"circle","size":70,"opacity":1,"color":"#f6a234"},"encoding":{"x":{"datum":0.6947,"type":"quantitative","scale":{"domain":[-1,1],"nice":false,"zero":false},"axis":null},"y":{"datum":17.847,"type":"quantitative","scale":{"domain":[0,16.55],"nice":false,"zero":false},"axis":null}}},
{"data":{"values":[{}]},"mark":{"type":"circle","size":80,"opacity":1,"fill":"white","stroke":"#f6a234","strokeWidth":1},"encoding":{"x":{"datum":0.6533,"type":"quantitative","scale":{"domain":[-1,1],"nice":false,"zero":false},"axis":null},"y":{"datum":17.198,"type":"quantitative","scale":{"domain":[0,16.55],"nice":false,"zero":false},"axis":null}}},
{"data":{"values":[{}]},"mark":{"type":"circle","size":80,"opacity":1,"fill":"white","stroke":"#f6a234","strokeWidth":1},"encoding":{"x":{"datum":0.6947,"type":"quantitative","scale":{"domain":[-1,1],"nice":false,"zero":false},"axis":null},"y":{"datum":17.198,"type":"quantitative","scale":{"domain":[0,16.55],"nice":false,"zero":false},"axis":null}}},
{"data":{"values":[{}]},"mark":{"type":"circle","size":80,"opacity":1,"fill":"white","stroke":"#f6a234","strokeWidth":1},"encoding":{"x":{"datum":0.7347,"type":"quantitative","scale":{"domain":[-1,1],"nice":false,"zero":false},"axis":null},"y":{"datum":17.198,"type":"quantitative","scale":{"domain":[0,16.55],"nice":false,"zero":false},"axis":null}}},
{"data":{"values":[{}]},"mark":{"type":"text","text":"T","font":"Liberation Sans","fontSize":16.5,"fontWeight":"bold","fontStyle":"italic","color":"#e3001b","align":"left","baseline":"alphabetic"},"encoding":{"x":{"datum":0.7689,"type":"quantitative","scale":{"domain":[-1,1],"nice":false,"zero":false},"axis":null},"y":{"datum":17.161,"type":"quantitative","scale":{"domain":[0,16.55],"nice":false,"zero":false},"axis":null}}},
{"data":{"values":[{}]},"mark":{"type":"text","text":"MVA","font":"Liberation Sans","fontSize":16.5,"fontWeight":"bold","color":"#1f3184","align":"left","baseline":"alphabetic"},"encoding":{"x":{"datum":0.8133,"type":"quantitative","scale":{"domain":[-1,1],"nice":false,"zero":false},"axis":null},"y":{"datum":17.161,"type":"quantitative","scale":{"domain":[0,16.55],"nice":false,"zero":false},"axis":null}}},
{"data":{"values":[{}]},"mark":{"type":"rect","fill":"white"},"encoding":{"x":{"datum":-1,"type":"quantitative","scale":{"domain":[-1,1],"nice":false,"zero":false},"axis":null},"x2":{"datum":1},"y":{"datum":0,"type":"quantitative","scale":{"domain":[0,16.55],"nice":false,"zero":false},"axis":null},"y2":{"datum":16.55}}},
{"data":{"values":[{}]},"mark":{"type":"rect","stroke":"#ff0000","strokeWidth":1,"fill":{"gradient":"linear","x1":0,"y1":0,"x2":1.19,"y2":0.67,"stops":[{"offset":0.055,"color":"rgba(255,0,0,0)"},{"offset":0.08,"color":"#f00"},{"offset":0.105,"color":"rgba(255,0,0,0)"},{"offset":0.222,"color":"rgba(255,0,0,0)"},{"offset":0.247,"color":"#f00"},{"offset":0.272,"color":"rgba(255,0,0,0)"},{"offset":0.388,"color":"rgba(255,0,0,0)"},{"offset":0.413,"color":"#f00"},{"offset":0.438,"color":"rgba(255,0,0,0)"},{"offset":0.555,"color":"rgba(255,0,0,0)"},{"offset":0.58,"color":"#f00"},{"offset":0.605,"color":"rgba(255,0,0,0)"},{"offset":0.722,"color":"rgba(255,0,0,0)"},{"offset":0.747,"color":"#f00"},{"offset":0.772,"color":"rgba(255,0,0,0)"},{"offset":0.888,"color":"rgba(255,0,0,0)"},{"offset":0.913,"color":"#f00"},{"offset":0.938,"color":"rgba(255,0,0,0)"}]}},"encoding":{"x":{"datum":-0.9733,"type":"quantitative","scale":{"domain":[-1,1],"nice":false,"zero":false},"axis":null},"x2":{"datum":-0.84},"y":{"datum":14.116,"type":"quantitative","scale":{"domain":[0,16.55],"nice":false,"zero":false},"axis":null},"y2":{"datum":15.035}}},
{"data":{"name":"bdtgHist"},"mark":{"type":"area","interpolate":"step-after","stroke":"#0000ee","strokeWidth":1.2},
"encoding":{
"x":{"field":"x","type":"quantitative","scale":{"domain":[-1,1],"nice":false,"zero":false},"axis":{"zindex":1,"orient":"bottom","values":[-1,-0.8,-0.6,-0.4,-0.2,0,0.2,0.4,0.6,0.8,1],"tickSize":-9,"labelPadding":16,"format":"~g","labelFlush":false,"labelOverlap":false,"title":"BDTG response","titleAnchor":"end","titlePadding":5}},
"y":{"field":"s","type":"quantitative","scale":{"domain":[0,16.55],"nice":false,"zero":false},"axis":{"zindex":1,"orient":"left","values":[0,2,4,6,8,10,12,14,16],"tickSize":-9,"labelPadding":18,"format":"~g","labelOverlap":false,"title":"(1/N) dN / dx","titleAnchor":"end","titlePadding":14}},
"fill":{"datum":"S","type":"nominal","scale":{"domain":["S","B"],"range":["#7d99d1","rgba(0,0,0,0)"]},
"legend":{"title":null,"orient":"top-left","offset":0,"padding":3,"rowPadding":6.5,"fillColor":"rgba(0,0,0,0)","strokeColor":"#999999","cornerRadius":0,"symbolType":"M-1.667,-0.472H1.667V0.472H-1.667Z","symbolSize":324,"symbolStrokeWidth":1,"symbolOffset":8.5,"labelOffset":11,"labelFont":"Liberation Sans","labelFontSize":14.5,"labelColor":"black","labelLimit":400,"labelExpr":"datum.value === 'S' ? 'Signal (test sample)' : 'Background (test sample)'",
"encode":{"symbols":{"update":{"stroke":{"condition":{"test":"datum.value === 'B'","value":"rgba(0,0,0,0)"},"value":"#0000ee"},"opacity":{"value":1}}}}}}
}},
{"data":{"name":"bdtgHist"},"mark":{"type":"area","interpolate":"step-after","stroke":"#ff0000","strokeWidth":1.2,"fill":{"gradient":"linear","x1":0,"y1":0,"x2":1.2,"y2":0.6,"stops":[
{"offset":0,"color":"rgba(255,0,0,0)"},{"offset":0.002,"color":"#f00"},{"offset":0.004,"color":"rgba(255,0,0,0)"},
{"offset":0.0125,"color":"rgba(255,0,0,0)"},{"offset":0.0145,"color":"#f00"},{"offset":0.0165,"color":"rgba(255,0,0,0)"},
{"offset":0.025,"color":"rgba(255,0,0,0)"},{"offset":0.027,"color":"#f00"},{"offset":0.029,"color":"rgba(255,0,0,0)"},
{"offset":0.0375,"color":"rgba(255,0,0,0)"},{"offset":0.0395,"color":"#f00"},{"offset":0.0415,"color":"rgba(255,0,0,0)"},
{"offset":0.05,"color":"rgba(255,0,0,0)"},{"offset":0.052,"color":"#f00"},{"offset":0.054,"color":"rgba(255,0,0,0)"},
{"offset":0.0625,"color":"rgba(255,0,0,0)"},{"offset":0.0645,"color":"#f00"},{"offset":0.0665,"color":"rgba(255,0,0,0)"},
{"offset":0.075,"color":"rgba(255,0,0,0)"},{"offset":0.077,"color":"#f00"},{"offset":0.079,"color":"rgba(255,0,0,0)"},
{"offset":0.0875,"color":"rgba(255,0,0,0)"},{"offset":0.0895,"color":"#f00"},{"offset":0.0915,"color":"rgba(255,0,0,0)"},
{"offset":0.1,"color":"rgba(255,0,0,0)"},{"offset":0.102,"color":"#f00"},{"offset":0.104,"color":"rgba(255,0,0,0)"},
{"offset":0.1125,"color":"rgba(255,0,0,0)"},{"offset":0.1145,"color":"#f00"},{"offset":0.1165,"color":"rgba(255,0,0,0)"},
{"offset":0.125,"color":"rgba(255,0,0,0)"},{"offset":0.127,"color":"#f00"},{"offset":0.129,"color":"rgba(255,0,0,0)"},
{"offset":0.1375,"color":"rgba(255,0,0,0)"},{"offset":0.1395,"color":"#f00"},{"offset":0.1415,"color":"rgba(255,0,0,0)"},
{"offset":0.15,"color":"rgba(255,0,0,0)"},{"offset":0.152,"color":"#f00"},{"offset":0.154,"color":"rgba(255,0,0,0)"},
{"offset":0.1625,"color":"rgba(255,0,0,0)"},{"offset":0.1645,"color":"#f00"},{"offset":0.1665,"color":"rgba(255,0,0,0)"},
{"offset":0.175,"color":"rgba(255,0,0,0)"},{"offset":0.177,"color":"#f00"},{"offset":0.179,"color":"rgba(255,0,0,0)"},
{"offset":0.1875,"color":"rgba(255,0,0,0)"},{"offset":0.1895,"color":"#f00"},{"offset":0.1915,"color":"rgba(255,0,0,0)"},
{"offset":0.2,"color":"rgba(255,0,0,0)"},{"offset":0.202,"color":"#f00"},{"offset":0.204,"color":"rgba(255,0,0,0)"},
{"offset":0.2125,"color":"rgba(255,0,0,0)"},{"offset":0.2145,"color":"#f00"},{"offset":0.2165,"color":"rgba(255,0,0,0)"},
{"offset":0.225,"color":"rgba(255,0,0,0)"},{"offset":0.227,"color":"#f00"},{"offset":0.229,"color":"rgba(255,0,0,0)"},
{"offset":0.2375,"color":"rgba(255,0,0,0)"},{"offset":0.2395,"color":"#f00"},{"offset":0.2415,"color":"rgba(255,0,0,0)"},
{"offset":0.25,"color":"rgba(255,0,0,0)"},{"offset":0.252,"color":"#f00"},{"offset":0.254,"color":"rgba(255,0,0,0)"},
{"offset":0.2625,"color":"rgba(255,0,0,0)"},{"offset":0.2645,"color":"#f00"},{"offset":0.2665,"color":"rgba(255,0,0,0)"},
{"offset":0.275,"color":"rgba(255,0,0,0)"},{"offset":0.277,"color":"#f00"},{"offset":0.279,"color":"rgba(255,0,0,0)"},
{"offset":0.2875,"color":"rgba(255,0,0,0)"},{"offset":0.2895,"color":"#f00"},{"offset":0.2915,"color":"rgba(255,0,0,0)"},
{"offset":0.3,"color":"rgba(255,0,0,0)"},{"offset":0.302,"color":"#f00"},{"offset":0.304,"color":"rgba(255,0,0,0)"},
{"offset":0.3125,"color":"rgba(255,0,0,0)"},{"offset":0.3145,"color":"#f00"},{"offset":0.3165,"color":"rgba(255,0,0,0)"},
{"offset":0.325,"color":"rgba(255,0,0,0)"},{"offset":0.327,"color":"#f00"},{"offset":0.329,"color":"rgba(255,0,0,0)"},
{"offset":0.3375,"color":"rgba(255,0,0,0)"},{"offset":0.3395,"color":"#f00"},{"offset":0.3415,"color":"rgba(255,0,0,0)"},
{"offset":0.35,"color":"rgba(255,0,0,0)"},{"offset":0.352,"color":"#f00"},{"offset":0.354,"color":"rgba(255,0,0,0)"},
{"offset":0.3625,"color":"rgba(255,0,0,0)"},{"offset":0.3645,"color":"#f00"},{"offset":0.3665,"color":"rgba(255,0,0,0)"},
{"offset":0.375,"color":"rgba(255,0,0,0)"},{"offset":0.377,"color":"#f00"},{"offset":0.379,"color":"rgba(255,0,0,0)"},
{"offset":0.3875,"color":"rgba(255,0,0,0)"},{"offset":0.3895,"color":"#f00"},{"offset":0.3915,"color":"rgba(255,0,0,0)"},
{"offset":0.4,"color":"rgba(255,0,0,0)"},{"offset":0.402,"color":"#f00"},{"offset":0.404,"color":"rgba(255,0,0,0)"},
{"offset":0.4125,"color":"rgba(255,0,0,0)"},{"offset":0.4145,"color":"#f00"},{"offset":0.4165,"color":"rgba(255,0,0,0)"},
{"offset":0.425,"color":"rgba(255,0,0,0)"},{"offset":0.427,"color":"#f00"},{"offset":0.429,"color":"rgba(255,0,0,0)"},
{"offset":0.4375,"color":"rgba(255,0,0,0)"},{"offset":0.4395,"color":"#f00"},{"offset":0.4415,"color":"rgba(255,0,0,0)"},
{"offset":0.45,"color":"rgba(255,0,0,0)"},{"offset":0.452,"color":"#f00"},{"offset":0.454,"color":"rgba(255,0,0,0)"},
{"offset":0.4625,"color":"rgba(255,0,0,0)"},{"offset":0.4645,"color":"#f00"},{"offset":0.4665,"color":"rgba(255,0,0,0)"},
{"offset":0.475,"color":"rgba(255,0,0,0)"},{"offset":0.477,"color":"#f00"},{"offset":0.479,"color":"rgba(255,0,0,0)"},
{"offset":0.4875,"color":"rgba(255,0,0,0)"},{"offset":0.4895,"color":"#f00"},{"offset":0.4915,"color":"rgba(255,0,0,0)"},
{"offset":0.5,"color":"rgba(255,0,0,0)"},{"offset":0.502,"color":"#f00"},{"offset":0.504,"color":"rgba(255,0,0,0)"},
{"offset":0.5125,"color":"rgba(255,0,0,0)"},{"offset":0.5145,"color":"#f00"},{"offset":0.5165,"color":"rgba(255,0,0,0)"},
{"offset":0.525,"color":"rgba(255,0,0,0)"},{"offset":0.527,"color":"#f00"},{"offset":0.529,"color":"rgba(255,0,0,0)"},
{"offset":0.5375,"color":"rgba(255,0,0,0)"},{"offset":0.5395,"color":"#f00"},{"offset":0.5415,"color":"rgba(255,0,0,0)"},
{"offset":0.55,"color":"rgba(255,0,0,0)"},{"offset":0.552,"color":"#f00"},{"offset":0.554,"color":"rgba(255,0,0,0)"},
{"offset":0.5625,"color":"rgba(255,0,0,0)"},{"offset":0.5645,"color":"#f00"},{"offset":0.5665,"color":"rgba(255,0,0,0)"},
{"offset":0.575,"color":"rgba(255,0,0,0)"},{"offset":0.577,"color":"#f00"},{"offset":0.579,"color":"rgba(255,0,0,0)"},
{"offset":0.5875,"color":"rgba(255,0,0,0)"},{"offset":0.5895,"color":"#f00"},{"offset":0.5915,"color":"rgba(255,0,0,0)"},
{"offset":0.6,"color":"rgba(255,0,0,0)"},{"offset":0.602,"color":"#f00"},{"offset":0.604,"color":"rgba(255,0,0,0)"},
{"offset":0.6125,"color":"rgba(255,0,0,0)"},{"offset":0.6145,"color":"#f00"},{"offset":0.6165,"color":"rgba(255,0,0,0)"},
{"offset":0.625,"color":"rgba(255,0,0,0)"},{"offset":0.627,"color":"#f00"},{"offset":0.629,"color":"rgba(255,0,0,0)"},
{"offset":0.6375,"color":"rgba(255,0,0,0)"},{"offset":0.6395,"color":"#f00"},{"offset":0.6415,"color":"rgba(255,0,0,0)"},
{"offset":0.65,"color":"rgba(255,0,0,0)"},{"offset":0.652,"color":"#f00"},{"offset":0.654,"color":"rgba(255,0,0,0)"},
{"offset":0.6625,"color":"rgba(255,0,0,0)"},{"offset":0.6645,"color":"#f00"},{"offset":0.6665,"color":"rgba(255,0,0,0)"},
{"offset":0.675,"color":"rgba(255,0,0,0)"},{"offset":0.677,"color":"#f00"},{"offset":0.679,"color":"rgba(255,0,0,0)"},
{"offset":0.6875,"color":"rgba(255,0,0,0)"},{"offset":0.6895,"color":"#f00"},{"offset":0.6915,"color":"rgba(255,0,0,0)"},
{"offset":0.7,"color":"rgba(255,0,0,0)"},{"offset":0.702,"color":"#f00"},{"offset":0.704,"color":"rgba(255,0,0,0)"},
{"offset":0.7125,"color":"rgba(255,0,0,0)"},{"offset":0.7145,"color":"#f00"},{"offset":0.7165,"color":"rgba(255,0,0,0)"},
{"offset":0.725,"color":"rgba(255,0,0,0)"},{"offset":0.727,"color":"#f00"},{"offset":0.729,"color":"rgba(255,0,0,0)"},
{"offset":0.7375,"color":"rgba(255,0,0,0)"},{"offset":0.7395,"color":"#f00"},{"offset":0.7415,"color":"rgba(255,0,0,0)"},
{"offset":0.75,"color":"rgba(255,0,0,0)"},{"offset":0.752,"color":"#f00"},{"offset":0.754,"color":"rgba(255,0,0,0)"},
{"offset":0.7625,"color":"rgba(255,0,0,0)"},{"offset":0.7645,"color":"#f00"},{"offset":0.7665,"color":"rgba(255,0,0,0)"},
{"offset":0.775,"color":"rgba(255,0,0,0)"},{"offset":0.777,"color":"#f00"},{"offset":0.779,"color":"rgba(255,0,0,0)"},
{"offset":0.7875,"color":"rgba(255,0,0,0)"},{"offset":0.7895,"color":"#f00"},{"offset":0.7915,"color":"rgba(255,0,0,0)"},
{"offset":0.8,"color":"rgba(255,0,0,0)"},{"offset":0.802,"color":"#f00"},{"offset":0.804,"color":"rgba(255,0,0,0)"},
{"offset":0.8125,"color":"rgba(255,0,0,0)"},{"offset":0.8145,"color":"#f00"},{"offset":0.8165,"color":"rgba(255,0,0,0)"},
{"offset":0.825,"color":"rgba(255,0,0,0)"},{"offset":0.827,"color":"#f00"},{"offset":0.829,"color":"rgba(255,0,0,0)"},
{"offset":0.8375,"color":"rgba(255,0,0,0)"},{"offset":0.8395,"color":"#f00"},{"offset":0.8415,"color":"rgba(255,0,0,0)"},
{"offset":0.85,"color":"rgba(255,0,0,0)"},{"offset":0.852,"color":"#f00"},{"offset":0.854,"color":"rgba(255,0,0,0)"},
{"offset":0.8625,"color":"rgba(255,0,0,0)"},{"offset":0.8645,"color":"#f00"},{"offset":0.8665,"color":"rgba(255,0,0,0)"},
{"offset":0.875,"color":"rgba(255,0,0,0)"},{"offset":0.877,"color":"#f00"},{"offset":0.879,"color":"rgba(255,0,0,0)"},
{"offset":0.8875,"color":"rgba(255,0,0,0)"},{"offset":0.8895,"color":"#f00"},{"offset":0.8915,"color":"rgba(255,0,0,0)"},
{"offset":0.9,"color":"rgba(255,0,0,0)"},{"offset":0.902,"color":"#f00"},{"offset":0.904,"color":"rgba(255,0,0,0)"},
{"offset":0.9125,"color":"rgba(255,0,0,0)"},{"offset":0.9145,"color":"#f00"},{"offset":0.9165,"color":"rgba(255,0,0,0)"},
{"offset":0.925,"color":"rgba(255,0,0,0)"},{"offset":0.927,"color":"#f00"},{"offset":0.929,"color":"rgba(255,0,0,0)"},
{"offset":0.9375,"color":"rgba(255,0,0,0)"},{"offset":0.9395,"color":"#f00"},{"offset":0.9415,"color":"rgba(255,0,0,0)"},
{"offset":0.95,"color":"rgba(255,0,0,0)"},{"offset":0.952,"color":"#f00"},{"offset":0.954,"color":"rgba(255,0,0,0)"},
{"offset":0.9625,"color":"rgba(255,0,0,0)"},{"offset":0.9645,"color":"#f00"},{"offset":0.9665,"color":"rgba(255,0,0,0)"},
{"offset":0.975,"color":"rgba(255,0,0,0)"},{"offset":0.977,"color":"#f00"},{"offset":0.979,"color":"rgba(255,0,0,0)"},
{"offset":0.9875,"color":"rgba(255,0,0,0)"},{"offset":0.9895,"color":"#f00"},{"offset":0.9915,"color":"rgba(255,0,0,0)"}
]}},
"encoding":{
"x":{"field":"x","type":"quantitative","scale":{"domain":[-1,1],"nice":false,"zero":false},"axis":{"zindex":1,"orient":"bottom","values":[-0.95,-0.9,-0.85,-0.8,-0.75,-0.7,-0.65,-0.6,-0.55,-0.5,-0.45,-0.4,-0.35,-0.3,-0.25,-0.2,-0.15,-0.1,-0.05,0,0.05,0.1,0.15,0.2,0.25,0.3,0.35,0.4,0.45,0.5,0.55,0.6,0.65,0.7,0.75,0.8,0.85,0.9,0.95],"tickSize":-4.5,"labels":false,"domain":false,"title":null}},
"y":{"field":"b","type":"quantitative","scale":{"domain":[0,16.55],"nice":false,"zero":false},"axis":{"zindex":1,"orient":"left","values":[0.5,1,1.5,2,2.5,3,3.5,4,4.5,5,5.5,6,6.5,7,7.5,8,8.5,9,9.5,10,10.5,11,11.5,12,12.5,13,13.5,14,14.5,15,15.5,16,16.5],"tickSize":-4.5,"labels":false,"domain":false,"title":null}}
}},
{"data":{"name":"bdtgTrain"},"mark":{"type":"rule","strokeWidth":1},
"encoding":{
"x":{"field":"c","type":"quantitative","scale":{"domain":[-1,1],"nice":false,"zero":false},"axis":{"zindex":1,"orient":"top","values":[-1,-0.8,-0.6,-0.4,-0.2,0,0.2,0.4,0.6,0.8,1],"tickSize":-9,"labels":false,"title":null}},
"y":{"field":"yl","type":"quantitative","scale":{"domain":[0,16.55],"nice":false,"zero":false},"axis":{"zindex":1,"orient":"right","values":[0,2,4,6,8,10,12,14,16],"tickSize":-9,"labels":false,"title":"U/O-flow (S,B): (0.0, 0.0)% / (0.0, 0.0)%","titleAnchor":"start","titleAngle":270,"titleBaseline":"top","titleFontSize":10,"titlePadding":6}},
"y2":{"field":"yh"},
"stroke":{"field":"sample","type":"nominal","scale":{"domain":["S","B"],"range":["#0000ff","#ff0000"]},"legend":null}
}},
{"data":{"name":"bdtgTrain"},"mark":{"type":"rule","strokeWidth":1},
"encoding":{
"x":{"field":"lo","type":"quantitative","scale":{"domain":[-1,1],"nice":false,"zero":false},"axis":{"zindex":1,"orient":"top","values":[-0.95,-0.9,-0.85,-0.8,-0.75,-0.7,-0.65,-0.6,-0.55,-0.5,-0.45,-0.4,-0.35,-0.3,-0.25,-0.2,-0.15,-0.1,-0.05,0,0.05,0.1,0.15,0.2,0.25,0.3,0.35,0.4,0.45,0.5,0.55,0.6,0.65,0.7,0.75,0.8,0.85,0.9,0.95],"tickSize":-4.5,"labels":false,"domain":false,"title":null}},
"x2":{"field":"hi"},
"y":{"field":"v","type":"quantitative","scale":{"domain":[0,16.55],"nice":false,"zero":false},"axis":{"zindex":1,"orient":"right","values":[0.5,1,1.5,2,2.5,3,3.5,4,4.5,5,5.5,6,6.5,7,7.5,8,8.5,9,9.5,10,10.5,11,11.5,12,12.5,13,13.5,14,14.5,15,15.5,16,16.5],"tickSize":-4.5,"labels":false,"domain":false,"title":null}},
"stroke":{"field":"sample","type":"nominal","scale":{"domain":["S","B"],"range":["#0000ff","#ff0000"]},"legend":null}
}},
{"data":{"name":"bdtgTrain"},"transform":[{"fold":["yl","yh"],"as":["kk","yy"]}],"mark":{"type":"tick","orient":"horizontal","filled":false,"size":5,"thickness":0.01,"strokeWidth":1,"opacity":1},
"encoding":{
"x":{"field":"c","type":"quantitative","scale":{"domain":[-1,1],"nice":false,"zero":false},"axis":null},
"y":{"field":"yy","type":"quantitative","scale":{"domain":[0,16.55],"nice":false,"zero":false},"axis":null},
"stroke":{"field":"sample","type":"nominal","scale":{"domain":["S","B"],"range":["#0000ff","#ff0000"]},"legend":null}
}},
{"data":{"name":"bdtgTrain"},"transform":[{"fold":["lo","hi"],"as":["kk","xx"]}],"mark":{"type":"tick","orient":"vertical","filled":false,"size":5,"thickness":0.01,"strokeWidth":1,"opacity":1},
"encoding":{
"x":{"field":"xx","type":"quantitative","scale":{"domain":[-1,1],"nice":false,"zero":false},"axis":null},
"y":{"field":"v","type":"quantitative","scale":{"domain":[0,16.55],"nice":false,"zero":false},"axis":null},
"stroke":{"field":"sample","type":"nominal","scale":{"domain":["S","B"],"range":["#0000ff","#ff0000"]},"legend":null}
}},
{"data":{"name":"bdtgTrain"},"mark":{"type":"circle","size":28,"opacity":1},
"encoding":{
"x":{"field":"c","type":"quantitative","scale":{"domain":[-1,1],"nice":false,"zero":false},"axis":null},
"y":{"field":"v","type":"quantitative","scale":{"domain":[0,16.55],"nice":false,"zero":false},"axis":null},
"color":{"field":"sample","type":"nominal","scale":{"domain":["S","B"],"range":["#0000ff","#ff0000"]},
"legend":{"title":null,"orient":"top-right","offset":0,"padding":3,"rowPadding":6.5,"fillColor":"white","strokeColor":"#999999","cornerRadius":0,"symbolType":"M-0.25,0A0.25,0.25,0,1,1,0.25,0A0.25,0.25,0,1,1,-0.25,0Z","symbolSize":324,"symbolStrokeWidth":0,"labelOffset":2.6,"labelFont":"Liberation Sans","labelFontSize":14.5,"labelColor":"black","labelLimit":400,"labelExpr":"datum.value === 'S' ? 'Signal (training sample)\u2800' : 'Background (training sample)\u2800'"}}
}},
{"data":{"values":[{}]},"mark":{"type":"text","text":"Kolmogorov-Smirnov test: signal (background) probability =\u00a0\u00a0\u00a0\u00a0\u00a00 (0.001)","font":"Liberation Sans","fontSize":11.6,"fontWeight":"bold","color":"black","align":"left","baseline":"middle"},"encoding":{"x":{"datum":-0.9711,"type":"quantitative","scale":{"domain":[-1,1],"nice":false,"zero":false},"axis":null},"y":{"datum":13.331,"type":"quantitative","scale":{"domain":[0,16.55],"nice":false,"zero":false},"axis":null}}}
]}
],
"resolve":{"scale":{"fill":"independent","color":"independent","stroke":"independent"},"legend":{"fill":"independent","color":"independent"}},
"config":{
"view":{"stroke":null},
"axis":{"grid":false,"domainColor":"black","domainWidth":1,"tickColor":"black","tickWidth":1,"labelFont":"Liberation Sans","labelFontSize":14,"labelFontWeight":"bold","labelColor":"black","titleFont":"Liberation Sans","titleFontSize":16,"titleFontWeight":"bold","titleColor":"black"}
}
}
